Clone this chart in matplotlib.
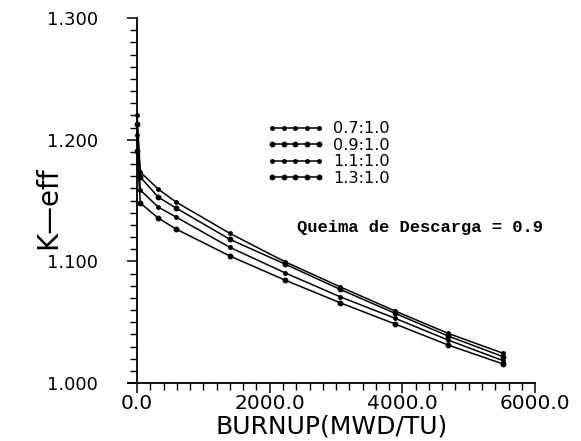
import matplotlib.pyplot as plt
from matplotlib.ticker import MultipleLocator, FormatStrFormatter

# burnup steps (MWD/TU) and k-eff
burnup = [0, 50, 320, 590, 1400, 2230, 3060, 3890, 4690, 5520]
k_07 = [1.2202, 1.1734, 1.1594, 1.1487, 1.1230, 1.0997, 1.0791, 1.0592, 1.0408, 1.0244]
k_09 = [1.2128, 1.1693, 1.1528, 1.1438, 1.1181, 1.0978, 1.0770, 1.0573, 1.0386, 1.0216]
k_11 = [1.2038, 1.1586, 1.1446, 1.1364, 1.1115, 1.0906, 1.0709, 1.0532, 1.0353, 1.0183]
k_13 = [1.1906, 1.1479, 1.1356, 1.1265, 1.1044, 1.0846, 1.0660, 1.0485, 1.0312, 1.0156]
labels = ['0.7:1.0', '0.9:1.0', '1.1:1.0', '1.3:1.0']
sizes = [2.5, 3.2, 2.5, 3.2]

fig = plt.figure(figsize=(5.81, 4.41), dpi=100)
ax = fig.add_axes([0.221, 0.1315, 0.700, 0.8275])

for k, lab, ms in zip([k_07, k_09, k_11, k_13], labels, sizes):
    ax.plot(burnup, k, color='black', lw=1.1, marker='o', ms=ms, label=lab)

ax.set_xlim(-130, 6000)
ax.set_ylim(1.0, 1.3)
ax.spines['left'].set_position(('data', 0))
ax.spines['top'].set_visible(False)
ax.spines['right'].set_visible(False)
ax.spines['left'].set_linewidth(1.3)
ax.spines['bottom'].set_linewidth(1.3)

ax.xaxis.set_major_locator(MultipleLocator(2000))
ax.xaxis.set_minor_locator(MultipleLocator(200))
ax.yaxis.set_major_locator(MultipleLocator(0.1))
ax.yaxis.set_minor_locator(MultipleLocator(0.01))
ax.xaxis.set_major_formatter(FormatStrFormatter('%.1f'))
ax.yaxis.set_major_formatter(FormatStrFormatter('%.3f'))
ax.tick_params(which='major', direction='out', length=7, width=1.1, color='black')
ax.tick_params(which='minor', direction='out', length=5, width=1.0, color='black')
ax.tick_params(axis='x', which='major', labelsize=14.5, pad=1)
ax.tick_params(axis='y', which='major', labelsize=13, pad=21)

ax.set_xlabel('BURNUP(MWD/TU)', fontsize=18, labelpad=1)
ax.set_ylabel('K\u2014eff', fontsize=20)
ax.yaxis.set_label_coords(-0.163, 0.479)

ax.legend(loc='upper left', bbox_to_anchor=(0.325, 0.735), frameon=False,
          numpoints=5, handlelength=3.5, handletextpad=0.6,
          labelspacing=0.1, fontsize=11.6, borderaxespad=0)

ax.text(0.415, 0.425, 'Queima de Descarga = 0.9', transform=ax.transAxes,
        family='Liberation Mono', weight='bold', fontsize=12.3, va='center')

fig.savefig('out.png', dpi=100)
